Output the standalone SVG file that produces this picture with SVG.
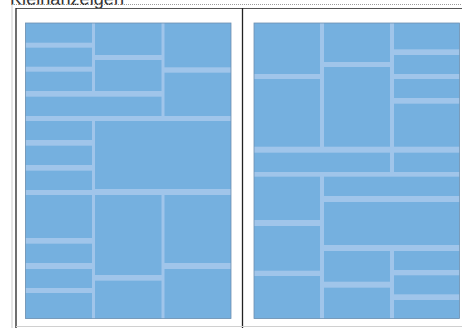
<svg xmlns="http://www.w3.org/2000/svg" width="462" height="328" viewBox="0 0 462 328">
<style>
.gut{fill:#a0c5ea}
.c{fill:#75b0df}
.edge{fill:none;stroke:#6e8fb0;stroke-width:0.8}
.dot{stroke:#9a9a9a;stroke-width:1;stroke-dasharray:1,1;fill:none}
.frame{stroke:#222;stroke-width:1.3;fill:none}
.title{font-family:"Liberation Sans",Arial,sans-serif;font-size:18px;fill:#333}
</style>
<rect x="0" y="0" width="462" height="328" fill="#ffffff"/>
<text class="title" x="10" y="4.5" textLength="114" lengthAdjust="spacingAndGlyphs">Kleinanzeigen</text>
<g id="guides">
<line class="dot" x1="12" y1="4.5" x2="462" y2="4.5"/>
<line class="dot" x1="12" y1="4.5" x2="12" y2="328"/>
</g>
<g id="frame">
<line x1="16" y1="8.5" x2="462" y2="8.5" stroke="#555" stroke-width="1"/>
<line class="frame" x1="16" y1="8" x2="16" y2="328"/>
<line class="frame" x1="242.5" y1="8" x2="242.5" y2="328"/>
<line x1="16" y1="326.5" x2="462" y2="326.5" stroke="#d0d0d0" stroke-width="1"/>
</g>
<g id="page-left">
<rect class="gut" x="25.5" y="23" width="205.5" height="295.5"/>
<rect class="c" x="25.5" y="23" width="66.5" height="19.7"/>
<rect class="c" x="25.5" y="47.7" width="66.5" height="19"/>
<rect class="c" x="25.5" y="71.7" width="66.5" height="19.3"/>
<rect class="c" x="95" y="23" width="66.5" height="32"/>
<rect class="c" x="95" y="60" width="66.5" height="31"/>
<rect class="c" x="25.5" y="96.7" width="136" height="19.3"/>
<rect class="c" x="164.5" y="23" width="66.5" height="44.3"/>
<rect class="c" x="164.5" y="72.7" width="66.5" height="43.3"/>
<rect class="c" x="25.5" y="121" width="66.5" height="19"/>
<rect class="c" x="25.5" y="145.7" width="66.5" height="19.3"/>
<rect class="c" x="25.5" y="170.7" width="66.5" height="19.3"/>
<rect class="c" x="95" y="121" width="136" height="68"/>
<rect class="c" x="25.5" y="195" width="66.5" height="43"/>
<rect class="c" x="25.5" y="243.7" width="66.5" height="19.3"/>
<rect class="c" x="25.5" y="269" width="66.5" height="19"/>
<rect class="c" x="25.5" y="293" width="66.5" height="25.5"/>
<rect class="c" x="95" y="195" width="66.5" height="80"/>
<rect class="c" x="95" y="280.7" width="66.5" height="37.8"/>
<rect class="c" x="164.5" y="195" width="66.5" height="68"/>
<rect class="c" x="164.5" y="269" width="66.5" height="49.5"/>
<rect class="edge" x="25.5" y="23" width="205.5" height="295.5"/>
</g>
<g id="page-right">
<rect class="gut" x="254" y="23" width="205.5" height="295.5"/>
<rect class="c" x="254" y="23" width="66" height="51"/>
<rect class="c" x="254" y="79" width="66" height="67.7"/>
<rect class="c" x="324" y="23" width="66" height="39"/>
<rect class="c" x="324" y="67" width="66" height="79.7"/>
<rect class="c" x="394" y="23" width="65.5" height="26.3"/>
<rect class="c" x="394" y="55" width="65.5" height="19"/>
<rect class="c" x="394" y="79" width="65.5" height="19"/>
<rect class="c" x="394" y="103.7" width="65.5" height="43"/>
<rect class="c" x="254" y="152.7" width="136" height="19.3"/>
<rect class="c" x="394" y="152.7" width="65.5" height="19.3"/>
<rect class="c" x="254" y="176.7" width="66" height="43.3"/>
<rect class="c" x="254" y="226" width="66" height="44.7"/>
<rect class="c" x="254" y="276" width="66" height="42.5"/>
<rect class="c" x="324" y="176.7" width="135.5" height="19.3"/>
<rect class="c" x="324" y="202" width="135.5" height="43"/>
<rect class="c" x="324" y="251" width="66" height="30.7"/>
<rect class="c" x="324" y="287.7" width="66" height="30.8"/>
<rect class="c" x="394" y="251" width="65.5" height="19"/>
<rect class="c" x="394" y="275.3" width="65.5" height="19"/>
<rect class="c" x="394" y="300" width="65.5" height="18.5"/>
<rect class="edge" x="254" y="23" width="205.5" height="295.5"/>
</g>
</svg>
